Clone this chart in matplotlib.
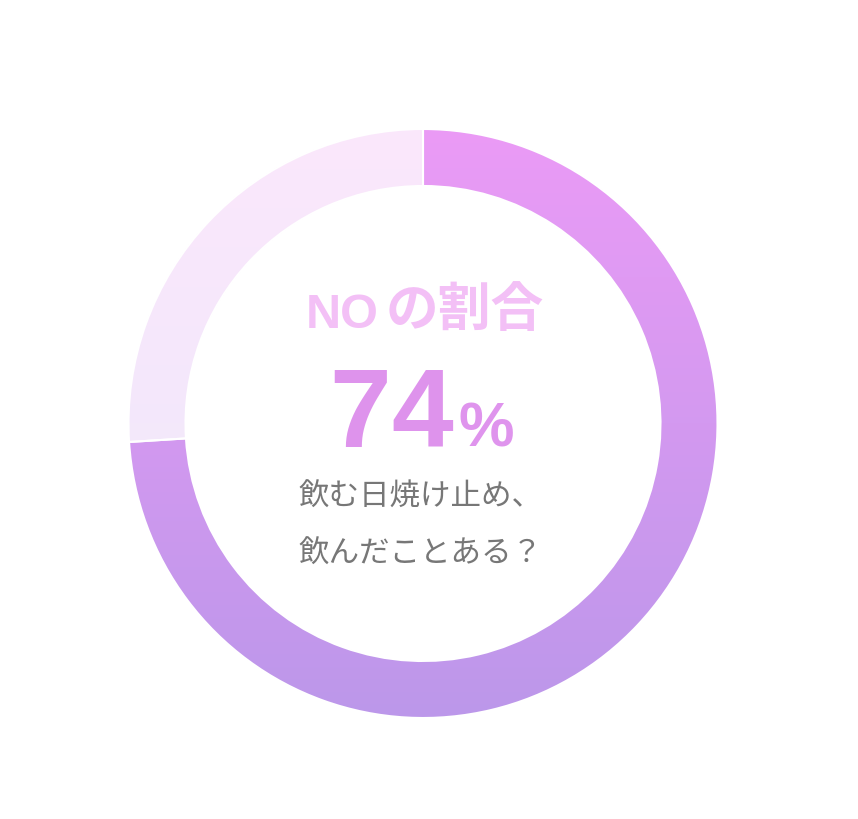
import numpy as np
import matplotlib
matplotlib.use("Agg")
import matplotlib.pyplot as plt
from matplotlib.colors import LinearSegmentedColormap

# data
labels = ["NO", "YES"]
values = [74, 26]
title_latin = "NO"
title_jp = "の割合"
pct_digits = ["7", "4"]
question_lines = ["飲む日焼け止め、", "飲んだことある？"]

# gradients top -> bottom for each slice
grad_colors = [("#eb9bf6", "#bc97ea"), ("#fbe7fc", "#ece9fa")]

W, H = 858, 820
fig = plt.figure(figsize=(W / 100, H / 100), dpi=100)
ax = fig.add_axes([0, 0, 1, 1])

cx, cy = 423, H - 424.5
r_out, ring = 294.5, 57

wedges, _ = ax.pie(values, radius=r_out, center=(cx, cy), startangle=90,
                   counterclock=False, frame=True,
                   wedgeprops=dict(width=ring, edgecolor="white", linewidth=1.5,
                                   facecolor="none"))
ax.set_xlim(0, W)
ax.set_ylim(0, H)
ax.set_aspect("auto")
ax.axis("off")

grad = np.linspace(0, 1, 256).reshape(-1, 1)
for w, (c_top, c_bot) in zip(wedges, grad_colors):
    cmap = LinearSegmentedColormap.from_list("g", [c_top, c_bot])
    im = ax.imshow(grad, cmap=cmap, aspect="auto", origin="upper",
                   extent=[cx - r_out, cx + r_out, cy - r_out, cy + r_out],
                   zorder=1)
    im.set_clip_path(w)
    w.set_zorder(2)

# title
ax.text(379, H - 328, title_latin, ha="right", va="baseline", fontsize=35,
        fontweight="bold", color="#f3c0f6", family=["Liberation Sans"])
ax.text(386, H - 311, title_jp, ha="left", va="center", fontsize=38,
        fontweight="bold", color="#f3c0f6",
        family=["Noto Sans CJK JP", "DejaVu Sans"])

# big percentage, digits placed one by one (wider tracking)
for ch, x in zip(pct_digits, [360.5, 422.5]):
    ax.text(x, H - 447, ch, ha="center", va="baseline", fontsize=80,
            fontweight="bold", color="#de93ec", family=["Liberation Sans"])
ax.text(486.5, H - 447, "%", ha="center", va="baseline", fontsize=45,
        fontweight="bold", color="#df94ed", family=["Liberation Sans"])

for i, line in enumerate(question_lines):
    ax.text(298, H - (497 + 57 * i), line, ha="left", va="center",
            fontsize=22, color="#777777",
            family=["Noto Sans CJK JP", "DejaVu Sans"])

fig.savefig("out.png", dpi=100, facecolor="white")
